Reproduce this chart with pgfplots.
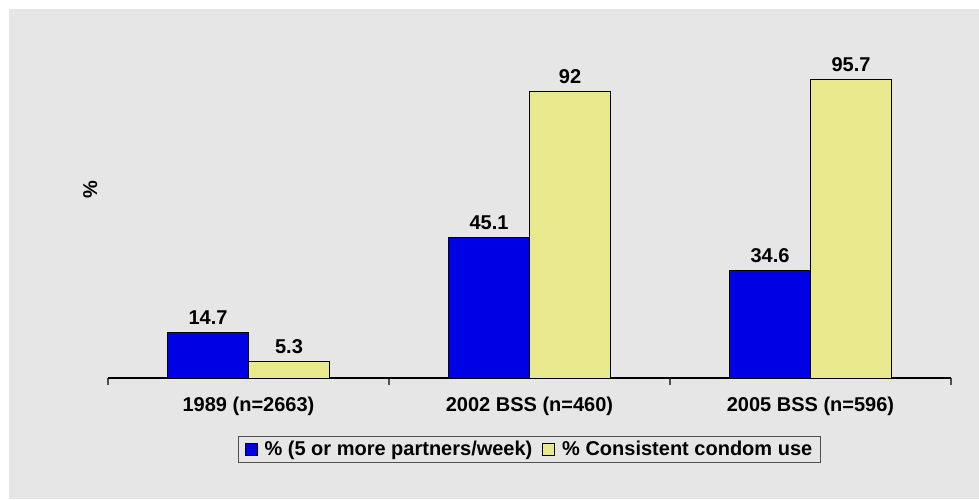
\documentclass[border=0pt]{standalone}
\usepackage{fontspec}
\setmainfont{Liberation Sans}
\usepackage{pgfplots}
\pgfplotsset{compat=1.18}

\definecolor{bgray}{RGB}{230,230,230}
\definecolor{barblue}{RGB}{0,0,228}
\definecolor{baryel}{RGB}{232,232,140}
\definecolor{tickgray}{RGB}{80,80,80}

\newcommand{\lbl}{\fontsize{20}{24}\selectfont\bfseries}

\begin{document}
\begin{tikzpicture}
  \fill[white] (0pt,0pt) rectangle (979pt,499pt);
  \fill[bgray] (9pt,0pt) rectangle (979pt,490pt);

  \begin{axis}[
    at={(108pt,121pt)}, anchor=south west,
    scale only axis,
    width=843pt, height=312pt,
    xmin=-0.5, xmax=2.5,
    ymin=0, ymax=100,
    axis x line=bottom,
    axis y line=left,
    y axis line style={draw=none},
    x axis line style={-, black, line width=1.2pt},
    ybar=0pt, bar width=81pt,
    xtick={0,1,2},
    xticklabels={1989 (n=2663), 2002 BSS (n=460), 2005 BSS (n=596)},
    major x tick style={draw=none},
    minor xtick={-0.5,0.5,1.5,2.5},
    minor x tick style={tickgray, line width=1.2pt},
    minor tick length=7pt,
    tick align=outside,
    xticklabel style={font=\lbl, yshift=-11pt},
    ytick=\empty,
    ylabel={\%},
    ylabel style={font=\lbl, at={(axis description cs:-0.021,0.6026)}, anchor=center, rotate=0},
    /pgf/number format/assume math mode=true,
    nodes near coords,
    every node near coord/.append style={font=\lbl, anchor=south, yshift=4pt, black},
    legend columns=2,
    legend style={at={(0.5,-0.2276)}, anchor=center, draw=tickgray, line width=1pt,
      fill=bgray, font=\lbl, inner xsep=6pt, inner ysep=3pt,
      /tikz/every odd column/.append style={column sep=5pt},
      /tikz/every even column/.append style={column sep=8pt}},
    legend image code/.code={\draw[#1, draw=black, line width=0.8pt] (0pt,-6pt) rectangle (12pt,6pt);},
  ]
    \addplot[fill=barblue, draw=black, line width=0.8pt]
      coordinates {(0,14.7) (1,45.1) (2,34.6)};
    \addplot[fill=baryel, draw=black, line width=0.8pt]
      coordinates {(0,5.3) (1,92) (2,95.7)};
    \legend{\% (5 or more partners/week), \% Consistent condom use}
  \end{axis}
\end{tikzpicture}
\end{document}
